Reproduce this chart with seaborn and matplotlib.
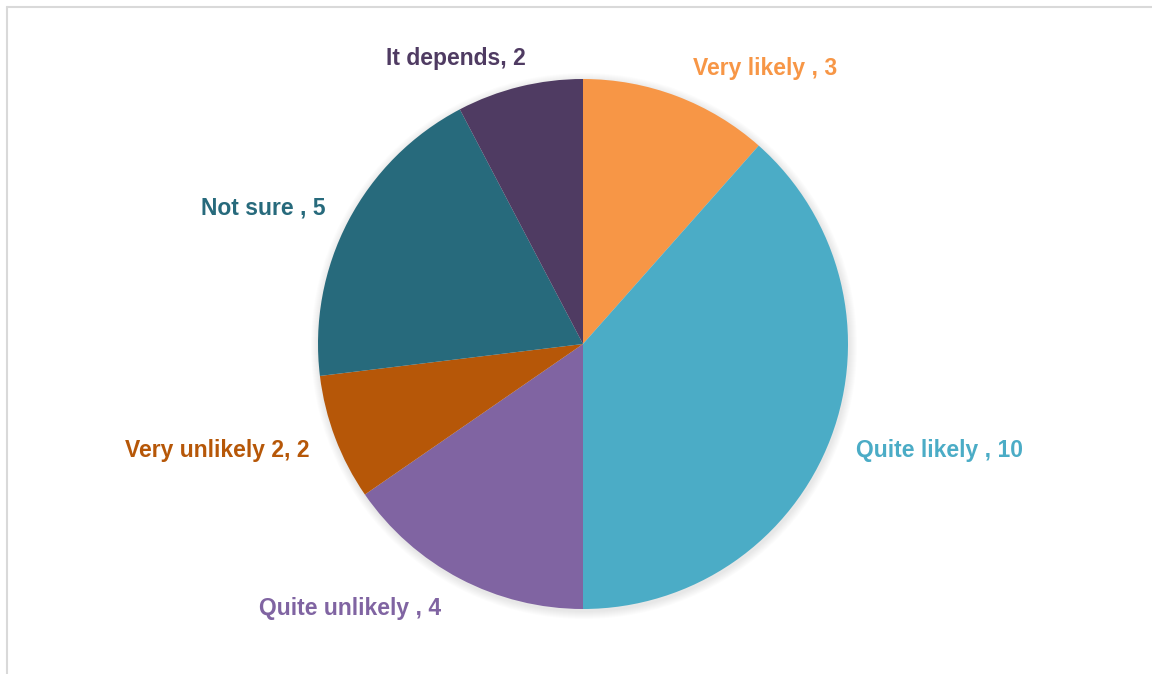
import matplotlib
matplotlib.use("Agg")
import matplotlib.pyplot as plt
import seaborn as sns
from matplotlib.lines import Line2D

categories = ["Very likely ", "Quite likely ", "Quite unlikely ", "Very unlikely 2", "Not sure ", "It depends"]
values = [3, 10, 4, 2, 5, 2]
colors = ["#F79646", "#4BACC6", "#8064A2", "#B65708", "#276A7C", "#4F3B62"]

sns.set_theme(style="white")
plt.rcParams['font.family'] = ['Liberation Sans', 'DejaVu Sans']

W, H = 1152, 674
fig = plt.figure(figsize=(W / 100, H / 100), dpi=100)
ax = fig.add_axes([0, 0, 1, 1])

palette = sns.color_palette(colors)
cx, cy, r = 583, H - 344, 265

# soft shadow
for i in range(8):
    circ = plt.Circle((cx + 1, cy - 2), r + 8 - i, color="black", alpha=0.012, lw=0, zorder=0)
    ax.add_patch(circ)

wedges, _ = ax.pie(values, colors=palette, startangle=90, counterclock=False,
                   center=(cx, cy), radius=r, wedgeprops=dict(linewidth=0))
for w in wedges:
    w.set_zorder(1)

ax.set_xlim(0, W)
ax.set_ylim(0, H)
ax.set_aspect('equal')
ax.axis('off')

label_pos = [(765, 68), (939, 451), (350, 608), (217, 451), (263, 208), (456, 58)]
for cat, val, col, (px, py) in zip(categories, values, colors, label_pos):
    ax.text(px, H - py, f"{cat}, {val}", color=col, fontsize=16.5, fontweight='bold',
            ha='center', va='center', zorder=3)

# chart area border (left and top visible)
fig.add_artist(Line2D([7 / W, 7 / W], [0, 1 - 7 / H], transform=fig.transFigure, color="#D9D9D9", lw=1.5))
fig.add_artist(Line2D([7 / W, 1], [1 - 7 / H, 1 - 7 / H], transform=fig.transFigure, color="#D9D9D9", lw=1.5))

fig.savefig("out.png", dpi=100)
